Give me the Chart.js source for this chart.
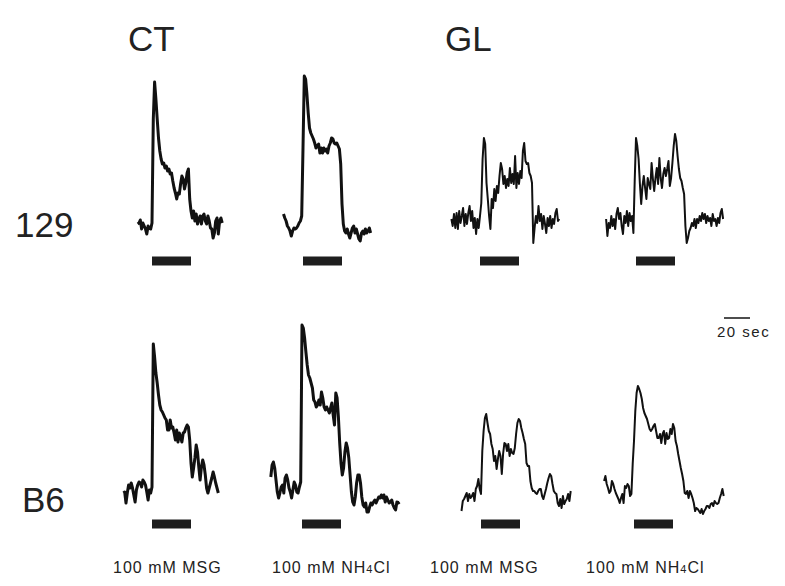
<!DOCTYPE html>
<html>
<head>
<meta charset="utf-8">
<script src="https://cdn.jsdelivr.net/npm/chart.js@4.4.0/dist/chart.umd.min.js"></script>
<style>
body { margin: 0; background: #fff; width: 785px; height: 586px; position: relative; overflow: hidden;
       font-family: "Liberation Sans", Arial, sans-serif; color: #222; }
.panel { position: absolute; }
.lbl { position: absolute; white-space: nowrap; }
.big { font-size: 35px; line-height: 35px; }
.small { font-size: 16px; line-height: 16px; letter-spacing: 1px; }
.sub { font-size: 11px; }
</style>
</head>
<body>

<div class="lbl big" style="left:128px; top:21px;">CT</div>
<div class="lbl big" style="left:445px; top:21px;">GL</div>
<div class="lbl big" style="left:15px; top:207px;">129</div>
<div class="lbl big" style="left:22px; top:482px;">B6</div>

<div class="lbl small" style="left:113px; top:560px;">100 mM MSG</div>
<div class="lbl small" style="left:272px; top:560px;">100 mM NH<span class="sub">4</span>Cl</div>
<div class="lbl small" style="left:430px; top:560px;">100 mM MSG</div>
<div class="lbl small" style="left:586px; top:560px;">100 mM NH<span class="sub">4</span>Cl</div>

<div class="lbl small" style="left:717px; top:324px; font-size:15px; letter-spacing:1.5px;">20 sec</div>

<script>
// time in s relative to stimulus onset, one sample per second
// response in arbitrary units, 0 = level of stimulus bar
const sampleStep = 1;

const stimOn = 0;
const stimOff = 30;
const stimLevel = 0;
const scaleBarSec = 20;

// CT, 129, 100 mM MSG
const ctMsg129Start = -11;
const ctMsg129 = [.37, .38, .41, .32, .38, .35, .32, .27, .35, .33, .32, .38,
    1.42, 1.79, 1.62, 1.42, 1.23, 1.10, 1.02, .97, .98, .93, .95, .90, .92, .87, .88, .80, .73, .68, .62,
    .68, .67, .77, .85, .82, .72, .78, .88, .92, .62, .50, .43, .50, .40, .47, .37, .42, .45, .37, .45,
    .47, .40, .37, .45, .40, .33, .32, .23, .28, .40, .43, .27, .40, .43, .38];

// CT, 129, 100 mM NH4Cl
const ctNh4129Start = -15;
const ctNh4129 = [.47, .43, .40, .35, .33, .30, .25, .30, .33, .32, .33, .35, .38, .40, .45,
    1.13, 1.85, 1.82, 1.67, 1.48, 1.33, 1.28, 1.25, 1.22, 1.18, 1.13, 1.15, 1.17, 1.08, 1.13, 1.08,
    1.13, 1.10, 1.12, 1.08, 1.15, 1.18, 1.23, 1.22, 1.18, 1.17, 1.18, 1.15, 1.12, .97, .57, .37, .30,
    .28, .32, .27, .23, .28, .33, .35, .28, .32, .27, .22, .20, .28, .30, .27, .32, .28, .30, .33, .28];

// GL, 129, 100 mM MSG
const glMsg129Start = -22;
const glMsg129 = [.42, .35, .47, .33, .48, .32, .50, .38, .45, .53, .35, .47, .37, .48, .55, .40,
    .50, .33, .43, .27, .42, .33, .45, .58, 1.02, 1.23, 1.17, .78, .62, .45, .32, .62, .53, .72, .60,
    .75, .68, .85, .98, .92, .77, .85, .73, .82, .75, .93, .78, .87, .77, 1.05, .73, .88, .77, .90, .83,
    1.10, 1.18, 1.00, .97, .98, .88, .85, .78, .18, .33, .45, .38, .55, .40, .47, .32, .45, .37, .28,
    .43, .35, .45, .33, .42, .37, .48, .52, .40, .42];

// GL, 129, 100 mM NH4Cl
const glNh4129Start = -23;
const glNh4129 = [.42, .25, .38, .33, .45, .35, .42, .32, .47, .53, .42, .48, .35, .27, .45, .38,
    .50, .35, .48, .40, .45, .28, .80, 1.23, 1.15, 1.02, .77, .57, .75, .85, .73, .62, .83, .77, .72,
    .98, .82, .70, .83, .93, .77, 1.03, .83, .73, .87, .93, .85, .92, 1.00, .75, .83, .98, 1.15, 1.27,
    1.20, 1.05, .92, .83, .80, .73, .67, .35, .18, .23, .30, .33, .38, .35, .42, .33, .42, .38, .45,
    .40, .48, .42, .47, .38, .45, .40, .43, .35, .47, .40, .42, .35, .43, .38, .48, .52, .42];

// CT, B6, 100 mM MSG
const ctMsgB6Start = -22;
const ctMsgB6 = [.31, .32, .21, .31, .39, .36, .41, .36, .29, .22, .34, .39, .42, .41, .37, .44,
    .42, .39, .32, .24, .34, .31, .37, 1.80, 1.67, 1.51, 1.41, 1.29, 1.19, 1.14, 1.12, 1.09, 1.06,
    1.04, .94, .94, 1.04, .96, .97, .91, .84, .94, .82, .91, .87, .82, .91, .92, .96, .99, .97, .84,
    .61, .47, .56, .66, .79, .72, .57, .44, .57, .64, .59, .49, .36, .31, .36, .41, .46, .52, .47,
    .41, .36, .31];

// CT, B6, 100 mM NH4Cl
const ctNh4B6Start = -24;
const ctNh4B6 = [.47, .59, .62, .56, .44, .32, .26, .31, .37, .39, .31, .46, .49, .44, .36, .32,
    .26, .34, .42, .39, .32, .31, .37, .42, 1.99, 1.96, 1.86, 1.72, 1.59, 1.49, 1.46, 1.41, 1.36,
    1.24, 1.22, 1.17, 1.19, 1.24, 1.19, 1.32, 1.26, 1.17, 1.14, 1.17, 1.14, 1.11, 1.16, 1.21, 1.09,
    .99, 1.31, 1.26, 1.07, .81, .61, .49, .56, .72, .81, .76, .66, .49, .32, .22, .19, .27, .41, .49,
    .49, .41, .27, .19, .17, .21, .12, .12, .17, .21, .19, .22, .24, .21, .24, .27, .26, .29, .26,
    .29, .22, .27, .24, .21, .22, .24, .19, .16, .14, .22, .21, .22];

// GL, B6, 100 mM MSG
const glMsgB6Start = -15;
const glMsgB6 = [.13, .23, .25, .28, .31, .23, .30, .26, .28, .31, .23, .35, .38, .45, .35, .30,
    .73, .93, 1.06, 1.10, 1.01, .93, .90, .80, .75, .63, .68, .55, .65, .73, .68, .50, .70, .81, .80,
    .73, .80, .68, .75, .71, .70, .76, .90, 1.01, 1.05, 1.03, .96, .91, .85, .80, .61, .58, .58, .43,
    .36, .33, .33, .31, .30, .33, .35, .35, .28, .25, .30, .35, .41, .46, .50, .48, .40, .33, .31,
    .30, .21, .18, .25, .16, .28, .20, .23, .25, .30, .23, .33];

// GL, B6, 100 mM NH4Cl
const glNh4B6Start = -23;
const glNh4B6 = [.43, .48, .40, .36, .31, .33, .43, .40, .35, .31, .28, .25, .21, .26, .30, .21,
    .38, .36, .40, .38, .28, .30, .60, .83, 1.13, 1.31, 1.38, 1.35, 1.31, 1.25, 1.16, 1.11, 1.08,
    1.05, 1.00, .95, .93, .95, .98, 1.00, .93, .86, .86, .90, .81, .90, .93, .80, .91, .85, .86, .95,
    .90, 1.00, .96, .83, .78, .70, .63, .56, .50, .43, .31, .30, .33, .26, .33, .30, .26, .21, .13,
    .16, .15, .13, .11, .15, .10, .13, .15, .18, .18, .16, .20, .21, .18, .23, .21, .20, .21, .26,
    .30, .35, .28];

// where each little trace sits on the page (left/top of its canvas)
const panels = [
    { start: ctMsg129Start, values: ctMsg129, left: 113, top: 46, width: 3 },
    { start: ctNh4129Start, values: ctNh4129, left: 264, top: 46, width: 3 },
    { start: glMsg129Start, values: glMsg129, left: 441, top: 46, width: 2 },
    { start: glNh4129Start, values: glNh4129, left: 597, top: 46, width: 2 },
    { start: ctMsgB6Start, values: ctMsgB6, left: 113, top: 309, width: 3 },
    { start: ctNh4B6Start, values: ctNh4B6, left: 263, top: 309, width: 3 },
    { start: glMsgB6Start, values: glMsgB6, left: 442, top: 309, width: 2 },
    { start: glNh4B6Start, values: glNh4B6, left: 595, top: 309, width: 2 }
];

function makeCanvas(left, top, w, h) {
    const div = document.createElement('div');
    div.className = 'panel';
    div.style.left = left + 'px';
    div.style.top = top + 'px';
    const canvas = document.createElement('canvas');
    canvas.width = w;
    canvas.height = h;
    canvas.style.width = w + 'px';
    canvas.style.height = h + 'px';
    div.appendChild(canvas);
    document.body.appendChild(div);
    return canvas;
}

const baseOptions = {
    responsive: false,
    animation: false,
    events: [],
    layout: { padding: 0 },
    plugins: { legend: { display: false }, tooltip: { enabled: false } }
};

function drawTrace(p) {
    const canvas = makeCanvas(p.left, p.top, 143, 230);
    const points = p.values.map((v, i) => ({ x: p.start + i * sampleStep, y: v }));
    new Chart(canvas.getContext('2d'), {
        type: 'line',
        data: {
            datasets: [{
                data: points,
                borderColor: '#111',
                borderWidth: p.width,
                borderJoinStyle: 'round',
                pointRadius: 0,
                tension: 0,
                clip: false
            }, {
                data: [{ x: stimOn, y: stimLevel }, { x: stimOff, y: stimLevel }],
                borderColor: '#1e1e1e',
                borderWidth: 9,
                borderCapStyle: 'butt',
                pointRadius: 0,
                clip: false
            }]
        },
        options: Object.assign({}, baseOptions, {
            scales: {
                x: { type: 'linear', min: -30, max: 80, display: false },
                y: { type: 'linear', min: -0.15, max: 2.15, display: false }
            }
        })
    });
}

panels.forEach(drawTrace);

// 20 sec scale bar
const scaleCanvas = makeCanvas(724, 313, 26, 10);
new Chart(scaleCanvas.getContext('2d'), {
    type: 'line',
    data: {
        datasets: [{
            data: [{ x: 0, y: 0.5 }, { x: scaleBarSec, y: 0.5 }],
            borderColor: '#222',
            borderWidth: 1.6,
            borderCapStyle: 'butt',
            pointRadius: 0,
            clip: false
        }]
    },
    options: Object.assign({}, baseOptions, {
        scales: {
            x: { type: 'linear', min: 0, max: scaleBarSec, display: false },
            y: { type: 'linear', min: 0, max: 1, display: false }
        }
    })
});
</script>
</body>
</html>
